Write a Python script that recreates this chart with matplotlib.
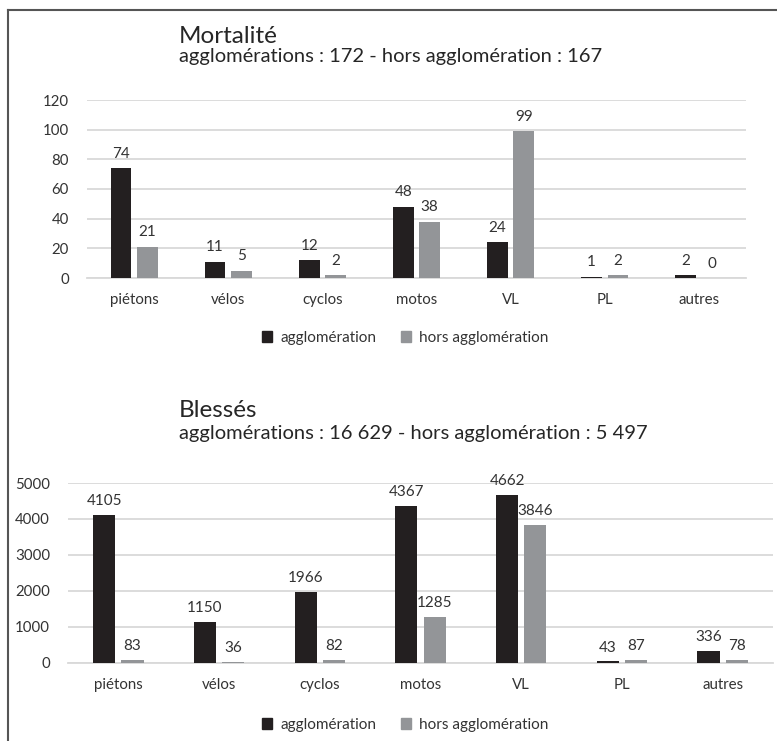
import numpy as np
import matplotlib
matplotlib.use("Agg")
import matplotlib.pyplot as plt
from matplotlib.lines import Line2D
from matplotlib.patches import Patch

plt.rcParams["font.family"] = ["Lato", "DejaVu Sans"]

# ─────────────────────────────────────────────
# Data
# ─────────────────────────────────────────────
categories = ["piétons", "vélos", "cyclos", "motos", "VL", "PL", "autres"]
series_names = ["agglomération", "hors agglomération"]

morts_agglo = [74, 11, 12, 48, 24, 1, 2]
morts_hors = [21, 5, 2, 38, 99, 2, 0]
morts_ticks = [0, 20, 40, 60, 80, 100, 120]

blesses_agglo = [4105, 1150, 1966, 4367, 4662, 43, 336]
blesses_hors = [83, 36, 82, 1285, 3846, 87, 78]
blesses_ticks = [0, 1000, 2000, 3000, 4000, 5000]

title_morts = "Mortalité"
sub_morts = "agglomérations : 172 - hors agglomération : 167"
title_blesses = "Blessés"
sub_blesses = "agglomérations : 16 629 - hors agglomération : 5 497"

# ─────────────────────────────────────────────
# Style
# ─────────────────────────────────────────────
C_BLACK = "#231f20"
C_GREY = "#939598"
C_GRID = "#d9d9d9"
C_TEXT = "#333333"
W = 777
H = 741

fig = plt.figure(figsize=(W / 100, H / 100), dpi=100)
fig.patch.set_facecolor("white")


def px(x0, y_top, x1, y_bot):
    """axes rect from pixel coords"""
    return [x0 / W, 1 - y_bot / H, (x1 - x0) / W, (y_bot - y_top) / H]


def bar_chart(rect, agglo, hors, ticks, lab_off):
    ax = fig.add_axes(rect)
    x = np.arange(len(categories))
    bw = 0.22
    off = 0.14
    b1 = ax.bar(x - off, agglo, bw, color=C_BLACK, zorder=3)
    b2 = ax.bar(x + off, hors, bw, color=C_GREY, zorder=3)
    for bars, vals in ((b1, agglo), (b2, hors)):
        for b, v in zip(bars, vals):
            ax.text(b.get_x() + b.get_width() / 2, v + lab_off, str(v),
                    ha="center", va="bottom", fontsize=11, color=C_TEXT)
    ax.set_xlim(-0.5, len(categories) - 0.5)
    ax.set_ylim(0, ticks[-1])
    ax.set_yticks(ticks)
    ax.set_xticks(x)
    ax.set_xticklabels(categories)
    ax.yaxis.grid(True, color=C_GRID, lw=1.3, zorder=0)
    ax.tick_params(length=0, labelsize=10.8, colors=C_TEXT)
    ax.tick_params(axis="y", pad=13)
    ax.tick_params(axis="x", pad=11)
    for s in ("top", "right", "left"):
        ax.spines[s].set_visible(False)
    ax.spines["bottom"].set_color(C_GRID)
    ax.spines["bottom"].set_linewidth(1.3)
    ax.set_facecolor("none")
    return ax


ax1 = bar_chart(px(87, 100, 746, 278), morts_agglo, morts_hors, morts_ticks, 5)
ax2 = bar_chart(px(68, 483, 773, 663), blesses_agglo, blesses_hors, blesses_ticks, 190)

# titles
fig.text(179 / W, 1 - 43 / H, title_morts, fontsize=17.5, color="#262626", va="baseline")
fig.text(179 / W, 1 - 62 / H, sub_morts, fontsize=14.5, color="#262626", va="baseline")
fig.text(179 / W, 1 - 417 / H, title_blesses, fontsize=17.5, color="#262626", va="baseline")
fig.text(179 / W, 1 - 439 / H, sub_blesses, fontsize=14.5, color="#262626", va="baseline")

# legends
handles = [Patch(color=C_BLACK), Patch(color=C_GREY)]
for yy in (338, 725):
    fig.legend(handles, series_names, loc="center", ncol=2,
               bbox_to_anchor=(405 / W, 1 - yy / H), frameon=False,
               fontsize=11, handlelength=0.7, handleheight=0.7,
               handletextpad=0.5, columnspacing=1.6, labelcolor=C_TEXT)

# frame (top + left border)
fig.add_artist(Line2D([8 / W, 1], [1 - 10 / H, 1 - 10 / H], color="#555555", lw=1.5))
fig.add_artist(Line2D([8 / W, 8 / W], [0, 1 - 10 / H], color="#555555", lw=1.5))

fig.savefig("out.png", dpi=100, facecolor="white")
plt.close(fig)
